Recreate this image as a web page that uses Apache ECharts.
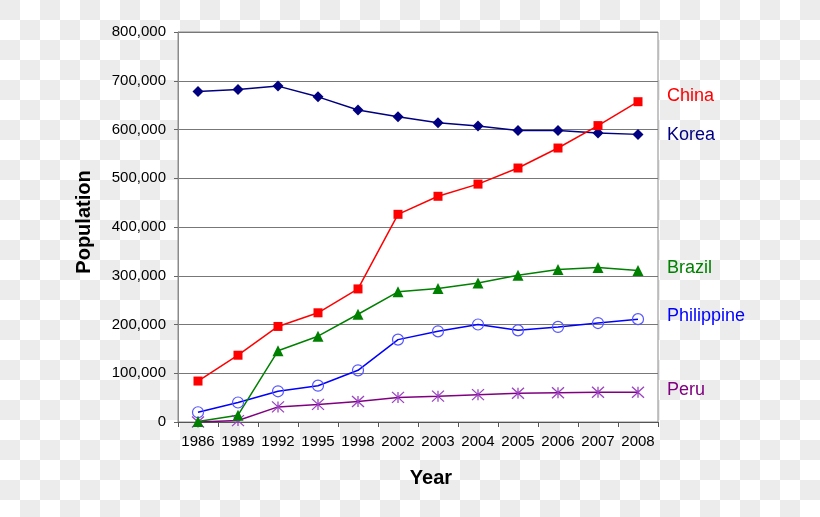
<!DOCTYPE html>
<html>
<head>
<meta charset="utf-8">
<script src="https://cdn.jsdelivr.net/npm/echarts@6/dist/echarts.min.js"></script>
<style>
html,body{margin:0;padding:0;}
body{width:820px;height:517px;background-color:#fff;
background-image:repeating-conic-gradient(#fff 0 25%, #ececec 0 50%);
background-size:40px 40px;background-position:0 0;}
#chart{width:820px;height:517px;}
</style>
</head>
<body>
<div id="chart"></div>
<script>
const years = ['1986','1989','1992','1995','1998','2002','2003','2004','2005','2006','2007','2008'];
const korea = [678000, 682000, 689000, 667000, 640000, 626000, 614000, 607000, 598000, 598000, 593000, 590000];
const china = [84000, 137000, 196000, 224000, 273000, 426000, 463000, 488000, 521000, 562000, 608000, 657000];
const brazil = [1000, 14000, 146000, 176000, 221000, 267000, 274000, 285000, 301000, 313000, 317000, 311000];
const philippine = [20000, 40000, 63000, 74500, 106000, 169000, 186000, 200000, 188000, 195000, 203000, 211000];
const peru = [0, 3000, 31000, 36000, 42000, 50500, 53000, 56000, 59000, 60000, 61000, 61000];
const yTicks = [0, 100000, 200000, 300000, 400000, 500000, 600000, 700000, 800000];
const seriesNames = ['China','Korea','Brazil','Philippine','Peru'];

const chart = echarts.init(document.getElementById('chart'), null, {renderer:'canvas'});
const font = 'Liberation Sans, Arial, sans-serif';

function fmt(v){ return v === 0 ? '0' : v.toLocaleString('en-US'); }

const option = {
  animation: false,
  backgroundColor: 'transparent',
  grid: {left:178, top:32, width:480, height:390, show:true, backgroundColor:'#fff', borderColor:'#8a8a8a', borderWidth:1},
  xAxis: {
    type:'category', data: years, boundaryGap:true,
    axisLine:{show:true, lineStyle:{color:'#555', width:1}},
    axisTick:{show:true, alignWithLabel:false, length:5, lineStyle:{color:'#555'}},
    axisLabel:{color:'#000', fontSize:15, fontFamily:font, margin:12, interval:0}
  },
  yAxis: {
    type:'value', min: yTicks[0], max: yTicks[yTicks.length-1], interval: yTicks[1]-yTicks[0],
    axisLine:{show:true, lineStyle:{color:'#8a8a8a', width:1}},
    axisTick:{show:true, length:4, lineStyle:{color:'#666'}},
    splitLine:{show:true, lineStyle:{color:'#777', width:1}},
    axisLabel:{color:'#000', fontSize:15, fontFamily:font, margin:12, formatter: fmt}
  },
  graphic: [
    {type:'text', left:null, x:431, y:478, style:{text:'Year', font:'bold 20px '+font, fill:'#000', textAlign:'center', textVerticalAlign:'middle'}},
    {type:'text', x:84, y:222, rotation: Math.PI/2, style:{text:'Population', font:'bold 20px '+font, fill:'#000', textAlign:'center', textVerticalAlign:'middle'}},
    {type:'text', x:667, y:96, style:{text:seriesNames[0], font:'18px '+font, fill:'#ff0000', textAlign:'left', textVerticalAlign:'middle'}},
    {type:'text', x:667, y:135, style:{text:seriesNames[1], font:'18px '+font, fill:'#000080', textAlign:'left', textVerticalAlign:'middle'}},
    {type:'text', x:667, y:268, style:{text:seriesNames[2], font:'18px '+font, fill:'#008000', textAlign:'left', textVerticalAlign:'middle'}},
    {type:'text', x:667, y:316, style:{text:seriesNames[3], font:'18px '+font, fill:'#0000ff', textAlign:'left', textVerticalAlign:'middle'}},
    {type:'text', x:667, y:390, style:{text:seriesNames[4], font:'18px '+font, fill:'#800080', textAlign:'left', textVerticalAlign:'middle'}}
  ],
  series: [
    {name:'Peru', type:'line', data:peru, symbol:'path://M0,0L10,10M10,0L0,10M5,0L5,10', symbolSize:[12,11],
      lineStyle:{color:'#800080', width:1.5}, itemStyle:{color:'rgba(0,0,0,0)', borderColor:'#9a40c0', borderWidth:1.2}},
    {name:'Philippine', type:'line', data:philippine, symbol:'circle', symbolSize:11,
      lineStyle:{color:'#0000ff', width:1.5}, itemStyle:{color:'rgba(0,0,0,0)', borderColor:'#5555ff', borderWidth:1.2}},
    {name:'Brazil', type:'line', data:brazil, symbol:'triangle', symbolSize:11,
      lineStyle:{color:'#008000', width:1.5}, itemStyle:{color:'#008000'}},
    {name:'Korea', type:'line', data:korea, symbol:'diamond', symbolSize:11,
      lineStyle:{color:'#000080', width:1.5}, itemStyle:{color:'#000080'}},
    {name:'China', type:'line', data:china, symbol:'rect', symbolSize:9,
      lineStyle:{color:'#ff0000', width:1.5}, itemStyle:{color:'#ff0000'}}
  ]
};
chart.setOption(option);
</script>
</body>
</html>
